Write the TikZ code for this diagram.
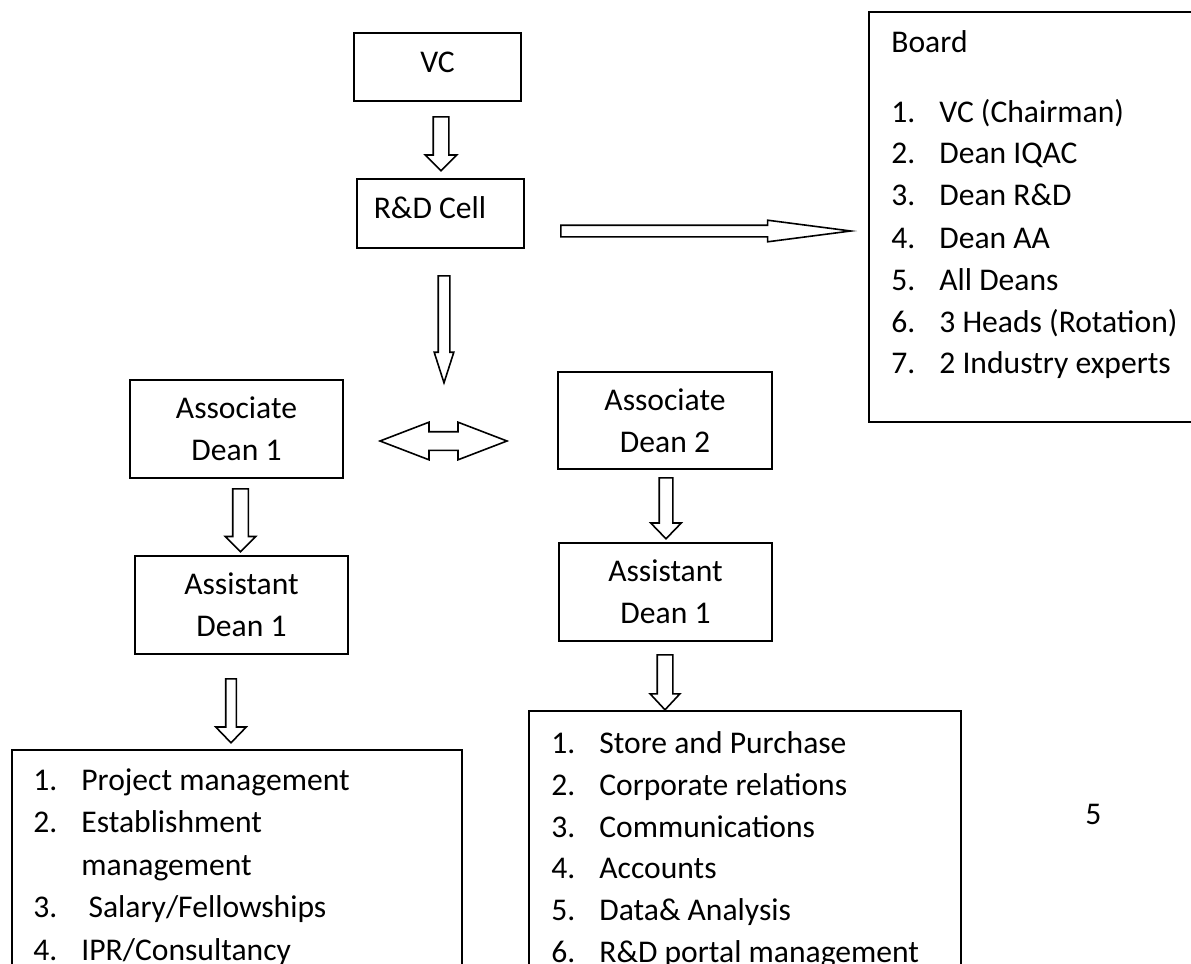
\documentclass[tikz,border=0pt]{standalone}
\usepackage{fontspec}
\setmainfont{Carlito}
\usetikzlibrary{shapes.arrows}

\begin{document}
\begin{tikzpicture}[x=0.5pt,y=-0.5pt,
  font=\fontsize{15.8pt}{20.9pt}\selectfont,
  box/.style={draw,line width=1pt,outer sep=0pt,inner sep=0pt,align=center},
  blk/.style={draw,line width=0.8pt,single arrow,inner xsep=0pt,anchor=tail},
  blkdown/.style={blk,rotate=-90},
  item/.style={anchor=base west,inner sep=0pt}]

\clip (0,0) rectangle (1191,964);

% top part
\node[box,minimum width=83.5pt,minimum height=34pt,text height=10.5pt,text depth=5.5pt] (vc) at (437.5,67) {VC};
\node[box,minimum width=83.5pt,minimum height=34.5pt,text height=10.5pt,text depth=5.5pt] (rnd) at (440.5,213.5) {R\&D Cell\hspace*{10.5pt}};

\node[blkdown,minimum height=27pt,inner ysep=3.5pt,single arrow head extend=4pt,single arrow tip angle=90] (a1) at (441,116) {};
\node[blk,minimum height=145pt,inner ysep=2.5pt,single arrow head extend=2.5pt,single arrow tip angle=14.8] (a2) at (560,231) {};
\node[blkdown,minimum height=53.5pt,inner ysep=2.5pt,single arrow head extend=2pt,single arrow tip angle=35.6] (a3) at (444,275) {};

% board
\node[box,anchor=north west,minimum width=166pt,minimum height=205pt] (boardbox) at (869,12) {};
\node[item] (board) at (891,52) {Board};
\foreach \y/\n/\t [count=\i] in {122/1./VC (Chairman),163/2./Dean IQAC,205/3./Dean R\&D,
    248/4./Dean AA,290/5./All Deans,332/6./3 Heads (Rotation),373/7./2 Industry experts}
  \node[item] (b\i) at (891,\y) {\makebox[24pt][l]{\n}\t};

% deans
\node[box,minimum width=106.5pt,minimum height=49pt] (ad1) at (236.5,429) {Associate\\Dean 1};
\node[box,minimum width=107pt,minimum height=48.5pt] (ad2) at (665,420.5) {Associate\\Dean 2};
\node[draw,line width=0.8pt,double arrow,inner xsep=0pt,inner ysep=4.25pt,minimum height=63.5pt,
  double arrow head extend=4.75pt,double arrow tip angle=42] (a4) at (443.5,441) {};

\node[blkdown,minimum height=31.5pt,inner ysep=3.5pt,single arrow head extend=3.75pt,single arrow tip angle=90] (a5) at (240.5,488) {};
\node[blkdown,minimum height=30.5pt,inner ysep=3pt,single arrow head extend=4.25pt,single arrow tip angle=88] (a7) at (666,477) {};

\node[box,minimum width=106.5pt,minimum height=49pt] (asd1) at (241.5,605) {Assistant\\Dean 1};
\node[box,minimum width=106.5pt,minimum height=49pt] (asd2) at (665.5,592) {Assistant\\Dean 1};

\node[blkdown,minimum height=32pt,inner ysep=2.25pt,single arrow head extend=5pt,single arrow tip angle=88] (a6) at (231,678) {};
\node[blkdown,minimum height=27.5pt,inner ysep=3.5pt,single arrow head extend=3.5pt,single arrow tip angle=86] (a8) at (665,654) {};

% lists
\node[box,anchor=north west,minimum width=225pt,minimum height=150pt] (list1) at (12,750) {};
\foreach \y/\n/\t [count=\i] in {790/1./Project management,832/2./Establishment,875//management,
    917/3./{\ Salary/Fellowships},960/4./{IPR/Consultancy}}
  \node[item] (l\i) at (33,\y) {\makebox[24pt][l]{\n}\t};

\node[box,anchor=north west,minimum width=216pt,minimum height=150pt] (list2) at (529,711) {};
\foreach \y/\n/\t [count=\i] in {753/1./Store and Purchase,795/2./Corporate relations,837/3./Communications,
    878/4./Accounts,920/5./Data\& Analysis,962/6./R\&D portal management}
  \node[item] (r\i) at (551,\y) {\makebox[24pt][l]{\n}\t};

\node[item] (page) at (1085,824) {5};

\end{tikzpicture}
\end{document}
